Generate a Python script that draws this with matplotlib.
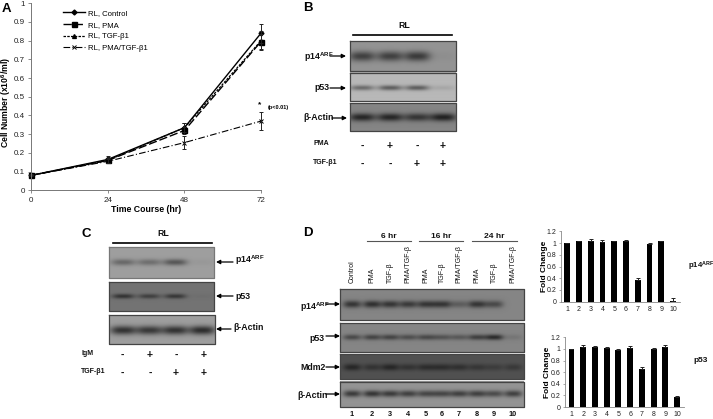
import numpy as np
import matplotlib
matplotlib.use('Agg')
import matplotlib.pyplot as plt

plt.rcParams['font.family'] = ['Liberation Sans', 'DejaVu Sans']
plt.rcParams['mathtext.fontset'] = 'custom'
plt.rcParams['mathtext.rm'] = 'Liberation Sans:bold'
plt.rcParams['mathtext.default'] = 'rm'

W, H = 713, 419

# Panel A, growth curves
horas = [0, 24, 48, 72]
control = [0.08, 0.165, 0.335, 0.84]
control_err = [0.0, 0.018, 0.025, 0.05]
pma = [0.08, 0.16, 0.32, 0.795]
pma_err = [0.005, 0.015, 0.02, 0.04]
tgf = [0.08, 0.16, 0.335, 0.80]
tgf_err = [0.0, 0.012, 0.025, 0.05]
pma_tgf = [0.08, 0.155, 0.255, 0.37]
pma_tgf_err = [0.0, 0.01, 0.033, 0.048]

# Bar panels of D
carriles = ['1', '2', '3', '4', '5', '6', '7', '8', '9', '10']
p14_fold = [1.0, 1.03, 1.04, 1.01, 1.03, 1.04, 0.37, 0.99, 1.03, 0.02]
p14_err = [0.0, 0.005, 0.025, 0.04, 0.005, 0.015, 0.035, 0.015, 0.005, 0.04]
p53_fold = [1.0, 1.04, 1.04, 1.01, 0.98, 1.01, 0.65, 0.99, 1.04, 0.18]
p53_err = [0.0, 0.035, 0.005, 0.02, 0.01, 0.04, 0.035, 0.02, 0.02, 0.005]

# Band strengths per lane of the blots
b_p14 = [0.75, 0.75, 0.8, 0.05]
b_p53 = [0.55, 0.65, 0.65, 0.12]
b_actin = [0.95, 0.95, 0.8, 1.0]
c_p14 = [0.45, 0.4, 0.6, 0.05]
c_p53 = [0.75, 0.6, 0.7, 0.05]
c_actin = [0.9, 0.85, 0.9, 0.95]
d_p14 = [0.8, 0.85, 0.8, 0.75, 0.8, 0.8, 0.4, 0.8, 0.6, 0.0]
d_p53 = [0.6, 0.65, 0.65, 0.55, 0.6, 0.5, 0.45, 0.7, 0.9, 0.15]
d_mdm2 = [0.7, 0.5, 0.7, 0.5, 0.6, 0.6, 0.55, 0.45, 0.35, 0.4]
d_actin = [0.8, 0.85, 0.8, 0.75, 0.7, 0.7, 0.75, 0.75, 0.65, 0.75]


def rect(x0, y0, x1, y1):
    # pixel box to figure fraction
    return [x0 / W, 1 - y1 / H, (x1 - x0) / W, (y1 - y0) / H]


fig = plt.figure(figsize=(W / 100, H / 100), dpi=100)
lienzo = fig.add_axes([0, 0, 1, 1])
lienzo.axis('off')


def blot(caja, fondo, banda_y, xs, fuerzas, ancho, alto, borde='#444444'):
    x0, y0, x1, y1 = caja
    xx, yy = np.meshgrid(np.arange(x0, x1, 0.5), np.arange(y0, y1, 0.5))
    img = np.full(xx.shape, fondo, dtype=float)
    for x, f in zip(xs, fuerzas):
        g = np.exp(-np.abs((xx - x) / ancho) ** 3 - ((yy - banda_y) / alto) ** 2)
        img -= 0.75 * f * fondo * g
    lienzo.imshow(img, extent=[x0, x1, y1, y0], cmap='gray', vmin=0, vmax=1,
                  aspect='auto', interpolation='bilinear')
    lienzo.plot([x0, x1, x1, x0, x0], [y0, y0, y1, y1, y0], color=borde, lw=0.9)


def flecha(x0, x1, y):
    lienzo.annotate('', xy=(x1, y), xytext=(x0, y),
                    arrowprops=dict(arrowstyle='-|>', color='black', lw=0.9,
                                    mutation_scale=6, shrinkA=0, shrinkB=0))


def bold(x, y, s, size=6.3, **kw):
    kw.setdefault('ha', 'left')
    kw.setdefault('va', 'center')
    lienzo.text(x, y, s, fontsize=size, fontweight='bold', color='#111111', **kw)


# Blots B
xs_b = [362, 390, 417, 443]
blot((350, 41, 456, 71), 0.58, 56, xs_b, b_p14, 13, 5)
blot((350, 73, 456, 101), 0.72, 88, xs_b, b_p53, 12, 2.5)
blot((350, 103, 456, 131), 0.52, 117, xs_b, b_actin, 13, 4)
bold(304, 57, 'p14$^{ARF}$')
bold(314, 88, 'p53')
bold(303, 117, 'β-Actin')
flecha(330, 346, 56)
flecha(330, 346, 88)
flecha(332, 347, 118)
lienzo.plot([353, 452], [35, 35], color='black', lw=1.2)
bold(404, 25, 'RL', ha='center')
bold(313, 143, 'PMA', size=5, ha='left')
bold(313, 162, 'TGF-β1', size=5, ha='left')
for x, a, b in zip(xs_b, '-+-+', '--++'):
    bold(x, 146, a, size=7.5, ha='center')
    bold(x, 164, b, size=7.5, ha='center')

# Blots C
xs_c = [123, 149, 175, 202]
blot((109, 247, 214, 278), 0.62, 262, xs_c, c_p14, 12, 3.2, '#777777')
blot((109, 282, 214, 311), 0.45, 296, xs_c, c_p53, 11, 2.4)
blot((109, 315, 215, 344), 0.62, 330, xs_c, c_actin, 13, 4.5)
bold(235, 260, 'p14$^{ARF}$')
bold(235, 296, 'p53')
bold(233, 327, 'β-Actin')
flecha(233, 216, 262)
flecha(233, 216, 296)
flecha(231, 216, 329)
lienzo.plot([113, 212], [243, 243], color='black', lw=1.2)
bold(163, 233, 'RL', ha='center')
bold(81, 353, 'IgM', size=5)
bold(81, 371, 'TGF-β1', size=5)
for x, a, b in zip([122, 150, 176, 204], '-+-+', '--++'):
    bold(x, 355, a, size=7.5, ha='center')
    bold(x, 373, b, size=7.5, ha='center')

# Blots D
xs_d = [352, 372, 390, 408, 426, 442, 459, 477, 494, 513]
blot((340, 289, 524, 320), 0.52, 304, xs_d, d_p14, 9, 3.6)
blot((340, 323, 524, 352), 0.52, 337, xs_d, d_p53, 9, 2.8)
blot((340, 354, 524, 379), 0.32, 367, xs_d, d_mdm2, 9, 3.4)
blot((340, 382, 524, 407), 0.58, 394, xs_d, d_actin, 9, 3.2)
bold(300, 307, 'p14$^{ARF}$')
bold(309, 338, 'p53')
bold(300, 367, 'Mdm2')
bold(297, 395, 'β-Actin')
flecha(326, 340, 304)
flecha(326, 340, 336)
flecha(326, 340, 367)
flecha(326, 340, 394)
etiquetas = ['Control', 'PMA', 'TGF-β', 'PMA/TGF-β', 'PMA', 'TGF-β', 'PMA/TGF-β',
             'PMA', 'TGF-β', 'PMA/TGF-β']
for x, e, n in zip(xs_d, etiquetas, carriles):
    lienzo.text(x, 283, e, rotation=90, ha='center', va='bottom', fontsize=5, color='#111111')
    bold(x, 414.5, n, size=5.3, ha='center')
for x0, x1, s in [(367, 411, '6 hr'), (419, 463, '16 hr'), (472, 517, '24 hr')]:
    lienzo.plot([x0, x1], [241, 241], color='#555555', lw=0.8)
    bold((x0 + x1) / 2, 236, s, size=6, ha='center')

# Panel letters
for x, y, s in [(2, 9, 'A'), (303, 8, 'B'), (81, 234, 'C'), (303, 233, 'D')]:
    lienzo.text(x, y, s, fontsize=9.5, fontweight='bold', ha='left', va='center')
bold(688, 266, 'p14$^{ARF}$', size=5.6)
bold(693, 360, 'p53', size=6)

lienzo.set_xlim(0, W)
lienzo.set_ylim(H, 0)

# Panel A
ax = fig.add_axes(rect(31.3, 3.3, 261, 190.3))
ax.plot(horas, control, color='black', lw=1.0, marker='D', ms=2.5, clip_on=False, label='RL, Control')
ax.plot(horas, pma, color='black', lw=1.0, ls=(0, (6, 2)), marker='s', ms=3.6, clip_on=False, label='RL, PMA')
ax.plot(horas, tgf, color='black', lw=0.9, ls=(0, (2, 1)), marker='^', ms=2.8, clip_on=False, label='RL, TGF-β1')
ax.plot(horas, pma_tgf, color='black', lw=0.8, ls=(0, (6, 2, 1, 2)), marker='x', ms=3.2, mew=0.7, clip_on=False,
        label='RL, PMA/TGF-β1')
for ys, es in [(control, control_err), (pma, pma_err), (tgf, tgf_err), (pma_tgf, pma_tgf_err)]:
    _, caps, barras_v = ax.errorbar(horas, ys, yerr=es, fmt='none', ecolor='#222222', elinewidth=0.7,
                                    capsize=1.5, capthick=0.7)
    for c in caps:
        c.set_clip_on(False)
    for b in barras_v:
        b.set_clip_on(False)
ax.set_xlim(0, 72)
ax.set_ylim(0, 1)
ax.set_xticks(horas)
ax.set_yticks(np.arange(0, 1.01, 0.1))
ax.set_yticklabels(['0', '0.1', '0.2', '0.3', '0.4', '0.5', '0.6', '0.7', '0.8', '0.9', '1'])
ax.tick_params(labelsize=5.8, length=2.5, width=0.6, color='#777777', pad=2, labelcolor='#222222')
for s in ['top', 'right']:
    ax.spines[s].set_visible(False)
for s in ['left', 'bottom']:
    ax.spines[s].set_color('#777777')
    ax.spines[s].set_linewidth(0.7)
ax.patch.set_alpha(0)
ax.set_xlabel('Time Course (hr)', fontsize=6.3, fontweight='bold', labelpad=1)
ax.set_ylabel('Cell Number (x10$^6$/ml)', fontsize=6.2, fontweight='bold')
ax.yaxis.set_label_coords(-0.078, 0.47)
ax.legend(loc='upper left', bbox_to_anchor=(0.11, 1.0), frameon=False, fontsize=5.6,
          handlelength=2.8, handletextpad=0.4, labelspacing=0.55, borderpad=0.3)
ax.text(71.5, 0.455, '*', fontsize=6, fontweight='bold', ha='center', va='center')
ax.text(74, 0.445, '(p<0.01)', fontsize=4, fontweight='bold', ha='left', va='center', clip_on=False)


def barras(caja, valores, errores, lab_x):
    a = fig.add_axes(rect(*caja))
    pos = np.arange(len(valores))
    a.bar(pos, valores, width=0.5, color='black', yerr=[[0] * len(errores), errores],
          ecolor='#222222', error_kw=dict(elinewidth=0.7, capsize=1.2, capthick=0.7))
    a.set_xlim(-0.55, 9.55)
    a.set_ylim(0, 1.2)
    a.set_xticks(pos)
    a.set_xticklabels(carriles)
    a.set_yticks(np.arange(0, 1.21, 0.2))
    a.set_yticklabels(['0', '0.2', '0.4', '0.6', '0.8', '1', '1.2'])
    a.tick_params(labelsize=5, length=0, pad=3, labelcolor='#222222')
    a.tick_params(axis='y', length=1.5, width=0.5, color='#888888', pad=1.5)
    a.spines['top'].set_visible(False)
    a.spines['right'].set_visible(False)
    a.spines['left'].set_color('#888888')
    a.spines['bottom'].set_color('#888888')
    a.spines['left'].set_linewidth(0.6)
    a.spines['bottom'].set_linewidth(0.6)
    a.patch.set_alpha(0)
    a.set_ylabel('Fold Change', fontsize=6, fontweight='bold')
    a.yaxis.set_label_coords(lab_x, 0.5)


barras((560.7, 231.3, 679.5, 301.7), p14_fold, p14_err, -0.107)
barras((565, 337.3, 683.5, 407), p53_fold, p53_err, -0.118)

fig.savefig('out.png', dpi=100)
